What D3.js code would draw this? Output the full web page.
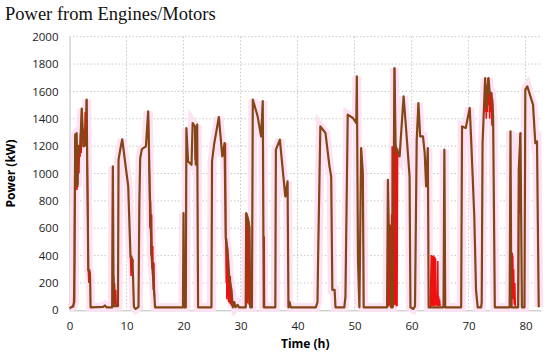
<!DOCTYPE html>
<html>
<head>
<meta charset="utf-8">
<script src="https://cdn.jsdelivr.net/npm/d3@7"></script>
<style>
  body { margin: 0; background: #fff; }
  .tick text { font-family: "Open Sans", sans-serif; font-size: 11.5px; fill: #222; }
</style>
</head>
<body>
<svg id="chart"></svg>
<script>
const title = "Power from Engines/Motors";
const timeTicks = [0, 10, 20, 30, 40, 50, 60, 70, 80];
const powerTicks = [0, 200, 400, 600, 800, 1000, 1200, 1400, 1600, 1800, 2000];

// smoothed power (brown), [time h, kW]
const smoothPower = [
  [0,15],[0.6,30],[0.85,60],[1.0,1283],[1.25,1295],[1.4,905],[1.5,1200],[1.7,1150],[1.9,1210],
  [2.15,1474],[2.45,1198],[2.85,1210],[3.0,1540],[3.3,295],[3.6,270],[3.7,22],
  [5.9,25],[6.2,35],[6.5,22],[7.5,22],[7.6,1052],[7.75,30],[8.5,30],
  [8.6,1100],[8.9,1175],[9.25,1250],[10.3,905],[10.7,393],[11.05,370],[11.3,25],[11.6,10],[12.1,25],
  [12.25,783],[12.4,1112],[12.7,1178],[13.4,1198],[13.8,1454],[14.1,840],[14.4,393],[14.9,100],[15.0,22],
  [19.9,22],[20.0,710],[20.1,22],[20.4,22],[20.5,1332],[20.8,1088],[21.4,1064],[21.6,1369],[22.0,1344],
  [22.15,1064],[22.4,1357],[22.55,22],
  [24.9,22],[25.0,1088],[25.35,1210],[26.2,1413],[26.8,1125],[27.2,1222],[27.4,527],[27.7,450],
  [28.0,250],[28.4,150],[28.65,22],[28.9,60],[29.1,22],[29.5,40],[29.7,22],
  [30.9,22],[31.0,710],[31.3,672],[31.55,610],[31.7,22],[32.0,22],[32.15,1540],[33.0,1418],[33.6,1271],
  [33.9,1530],[34.07,22],
  [36.1,22],[36.2,1174],[36.9,1247],[37.85,832],[38.25,942],[38.4,22],[38.6,60],[38.8,22],
  [43.2,22],[43.5,60],[43.6,371],[44.0,1344],[44.9,1296],[45.6,1052],[45.9,978],[46.1,150],[46.5,150],[46.65,22],
  [48.2,22],[48.4,100],[48.8,1430],[49.7,1406],[50.3,1369],[50.4,1710],[50.6,371],[50.85,22],
  [51.15,1186],[51.45,1003],[51.6,22],
  [55.7,22],[55.85,954],[56.0,588],[56.2,620],[56.4,22],[56.7,22],[57.0,1771],[57.2,1198],[57.6,1150],
  [57.9,1125],[58.6,1564],[59.05,1320],[59.65,978],[59.8,22],
  [60.3,10],[60.6,30],[60.9,1247],[61.2,1515],[61.5,1271],[62.0,1271],[62.3,1150],[62.55,905],[62.85,1186],[63.0,22],
  [65.6,22],[65.75,1174],[65.9,22],
  [68.7,22],[68.85,1344],[69.5,1332],[70.2,1479],[70.45,1247],[71.0,686],[71.3,150],[71.6,22],
  [72.2,22],[72.3,60],[72.45,1222],[72.9,1698],[73.2,1479],[73.5,1698],[73.7,1589],[74.0,1589],[74.3,1418],[74.6,22],
  [77.2,22],[77.35,1308],[77.5,22],[78.7,22],[78.8,1027],[79.1,1296],[79.35,22],[79.8,22],
  [79.95,1613],[80.3,1637],[81.3,1503],[81.7,1222],[82.0,1235],[82.3,22]
];

// raw power bursts (red), null = gap
const rawPower = [
  [0.7,20],[0.85,300],[0.95,1250],[1.0,900],[1.05,1290],[1.1,950],[1.2,1280],[1.3,880],[1.35,1200],[1.45,920],
  [1.55,1210],[1.65,1000],[1.75,1200],[1.85,1120],[1.95,1300],[2.05,1150],[2.15,1470],[2.25,1280],[2.35,1330],
  [2.45,1200],[2.55,1300],[2.65,1220],[2.75,1450],[2.85,1200],[3.0,1540],[3.3,295],[3.4,200],[3.5,300],[3.6,270],
  null,
  [7.5,22],[7.6,1050],[7.65,150],[7.7,30],[7.75,250],[7.8,60],[7.9,200],[8.0,40],[8.1,150],[8.2,25],
  null,
  [10.7,393],[10.8,250],[10.9,400],[11.0,300],[11.1,370],
  null,
  [13.8,1454],[14.0,1000],[14.1,600],[14.2,800],[14.3,400],[14.4,700],[14.5,300],[14.6,470],[14.7,150],[14.8,350],[14.9,100],
  null,
  [21.98,1344],[22.05,1100],[22.1,1300],[22.2,1064],
  null,
  [27.35,1222],[27.4,600],[27.5,200],[27.55,527],[27.6,80],[27.7,450],[27.75,100],[27.85,400],[27.9,60],
  [28.0,300],[28.1,50],[28.2,250],[28.3,40],[28.4,150],[28.5,30],
  null,
  [30.95,22],[31.0,710],[31.05,100],[31.1,690],[31.2,50],[31.3,672],[31.35,80],[31.45,650],[31.5,40],[31.55,610],[31.65,30],
  null,
  [34.1,22],[34.15,540],[34.2,22],
  null,
  [55.8,22],[55.85,954],[55.9,400],[56.0,588],[56.05,30],[56.1,620],[56.2,40],[56.3,600],[56.35,30],[56.5,700],
  [56.55,30],[56.6,1200],[56.65,30],[56.75,1180],[56.8,30],[56.9,1200],[56.95,40],[57.0,1771],[57.1,1200],
  [57.15,40],[57.25,1210],[57.3,30],[57.4,1190],[57.45,30],[57.55,1180],[57.6,1150],
  null,
  [63.3,22],[63.45,405],[63.5,30],[63.6,400],[63.65,40],[63.75,395],[63.8,30],[63.9,400],[63.95,40],[64.05,390],
  [64.1,30],[64.2,380],[64.25,40],[64.4,100],[64.5,30],[64.6,360],[64.65,30],[64.75,100],[64.8,30],[64.9,80],[65.0,30],
  null,
  [72.9,1698],[73.0,1450],[73.05,1650],[73.1,1400],[73.2,1600],[73.3,1450],[73.4,1700],[73.5,1500],[73.6,1650],
  [73.7,1400],[73.8,1600],[73.9,1450],[74.0,1589],[74.1,1350],[74.2,1550],[74.3,1418],
  null,
  [77.55,22],[77.65,420],[77.7,100],[77.75,400],[77.85,80],[77.9,300],[78.0,40],[78.1,200],[78.2,22],
  null,
  [78.7,22],[78.75,400],[78.8,900],[78.85,700],[78.9,1100],[78.95,1000],[79.0,1250],[79.1,1296]
];

const width = 550, height = 358;
const margin = { top: 36.7, right: 9, bottom: 47.7, left: 69.5 };

const svg = d3.select("#chart")
  .attr("width", width)
  .attr("height", height);

const x = d3.scaleLinear()
  .domain([0, 82.7])
  .range([margin.left, width - margin.right]);

const y = d3.scaleLinear()
  .domain([0, 2000])
  .range([height - margin.bottom, margin.top]);

svg.append("text")
  .attr("x", 5)
  .attr("y", 20)
  .attr("font-family", "'Liberation Serif', serif")
  .attr("font-size", 18.5)
  .attr("fill", "#111")
  .text(title);

// grid
svg.append("g")
  .selectAll("line")
  .data(powerTicks.filter(d => d > 0))
  .enter()
  .append("line")
  .attr("x1", margin.left)
  .attr("x2", width - margin.right)
  .attr("y1", d => y(d))
  .attr("y2", d => y(d))
  .attr("stroke", "#c8c8c8")
  .attr("stroke-dasharray", "1.5,2");

svg.append("g")
  .selectAll("line")
  .data(timeTicks.filter(d => d > 0))
  .enter()
  .append("line")
  .attr("x1", d => x(d))
  .attr("x2", d => x(d))
  .attr("y1", margin.top)
  .attr("y2", y(0))
  .attr("stroke", "#c8c8c8")
  .attr("stroke-dasharray", "1.5,2");

// axes
const yAxis = svg.append("g")
  .attr("transform", `translate(${margin.left},0)`)
  .call(d3.axisLeft(y).tickValues(powerTicks).tickFormat(d3.format("d")).tickSize(0).tickPadding(11));
yAxis.select(".domain").attr("stroke", "#bdbdbd");

const xAxis = svg.append("g")
  .attr("transform", `translate(0,${y(0)})`)
  .call(d3.axisBottom(x).tickValues(timeTicks).tickFormat(d3.format("d")).tickSize(0).tickPadding(12));
xAxis.select(".domain").attr("stroke", "#bdbdbd");

svg.append("text")
  .attr("transform", `translate(15,${(margin.top + y(0)) / 2}) rotate(-90)`)
  .attr("text-anchor", "middle")
  .attr("font-family", "'Open Sans', sans-serif")
  .attr("font-weight", "bold")
  .attr("font-size", 12)
  .text("Power (kW)");

svg.append("text")
  .attr("x", (margin.left + width - margin.right) / 2)
  .attr("y", 348)
  .attr("text-anchor", "middle")
  .attr("font-family", "'Open Sans', sans-serif")
  .attr("font-weight", "bold")
  .attr("font-size", 12)
  .text("Time (h)");

const line = d3.line()
  .defined(d => d !== null)
  .x(d => x(d[0]))
  .y(d => y(d[1]));

// soft pink halo behind the traces
svg.append("path")
  .datum(smoothPower)
  .attr("d", line)
  .attr("fill", "none")
  .attr("stroke", "#fde2f3")
  .attr("stroke-width", 9)
  .attr("stroke-linejoin", "miter");

svg.append("path")
  .datum(rawPower)
  .attr("d", line)
  .attr("fill", "none")
  .attr("stroke", "#ee1111")
  .attr("stroke-width", 1.6);

svg.append("path")
  .datum(smoothPower)
  .attr("d", line)
  .attr("fill", "none")
  .attr("stroke", "#844616")
  .attr("stroke-width", 2.2)
  .attr("stroke-linejoin", "round");
</script>
</body>
</html>
